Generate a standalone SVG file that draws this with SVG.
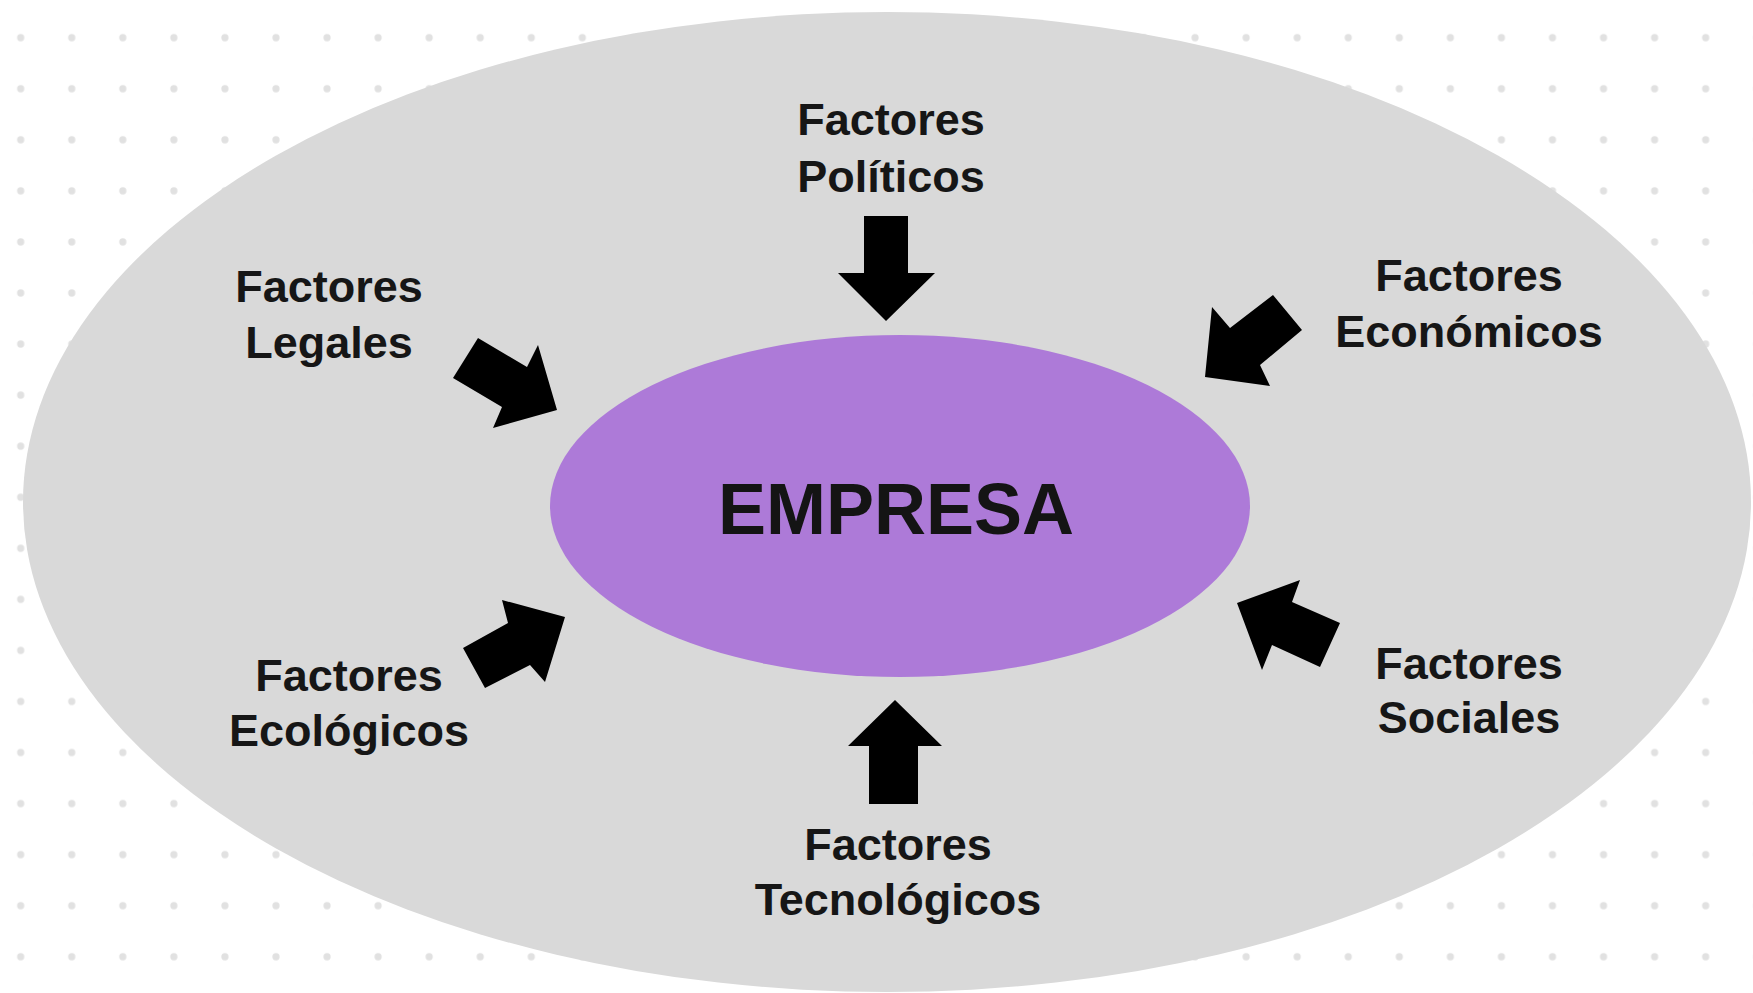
<svg xmlns="http://www.w3.org/2000/svg" width="1753" height="993" viewBox="0 0 1753 993">
  <style>
    .lbl { font-family: "Liberation Sans", Arial, sans-serif; font-weight: bold; font-size: 45px; fill: #161616; text-anchor: middle; }
    .core { font-family: "Liberation Sans", Arial, sans-serif; font-weight: bold; font-size: 72px; fill: #141414; text-anchor: middle; }
    .arrow { fill: #000000; }
  </style>
  <defs>
    <pattern id="dots" patternUnits="userSpaceOnUse" x="-4.83" y="12.17" width="51.06" height="51.06">
      <circle cx="25.53" cy="25.53" r="3.6" fill="#e1e1e1"/>
    </pattern>
  </defs>
  <rect width="1753" height="993" fill="#ffffff"/>
  <rect width="1753" height="993" fill="url(#dots)"/>
  <g id="environment">
    <ellipse cx="887" cy="502" rx="864" ry="490" fill="#d9d9d9"/>
  </g>
  <g id="empresa">
    <ellipse cx="900" cy="506" rx="350" ry="171" fill="#ad7ad8"/>
    <text class="core" x="896" y="534">EMPRESA</text>
  </g>
  <g id="politicos">
    <text class="lbl" x="891" y="135">Factores</text>
    <text class="lbl" x="891" y="192">Políticos</text>
  </g>
  <g id="legales">
    <text class="lbl" x="329" y="302">Factores</text>
    <text class="lbl" x="329" y="358">Legales</text>
  </g>
  <g id="economicos">
    <text class="lbl" x="1469" y="291">Factores</text>
    <text class="lbl" x="1469" y="347">Económicos</text>
  </g>
  <g id="ecologicos">
    <text class="lbl" x="349" y="691">Factores</text>
    <text class="lbl" x="349" y="746">Ecológicos</text>
  </g>
  <g id="sociales">
    <text class="lbl" x="1469" y="679">Factores</text>
    <text class="lbl" x="1469" y="733">Sociales</text>
  </g>
  <g id="tecnologicos">
    <text class="lbl" x="898" y="860">Factores</text>
    <text class="lbl" x="898" y="915">Tecnológicos</text>
  </g>
  <g id="connectors">
    <polygon class="arrow" points="864,216 908,216 908,273 935,273 886,321 838,273 864,273"/>
    <polygon class="arrow" points="869,804 918,804 918,746 942,746 895,700 848,746 869,746"/>
    <polygon class="arrow" points="478,338 527,367 538,345 557,410 493,428 502,407 453,378"/>
    <polygon class="arrow" points="1273,295 1302,330 1260,365 1270,386 1205,377 1212,307 1230,328"/>
    <polygon class="arrow" points="463,648 485,688 530,665 545,682 565,617 502,600 508,623"/>
    <polygon class="arrow" points="1300,580 1237,603 1262,670 1272,645 1320,667 1340,623 1292,602"/>
  </g>
</svg>
